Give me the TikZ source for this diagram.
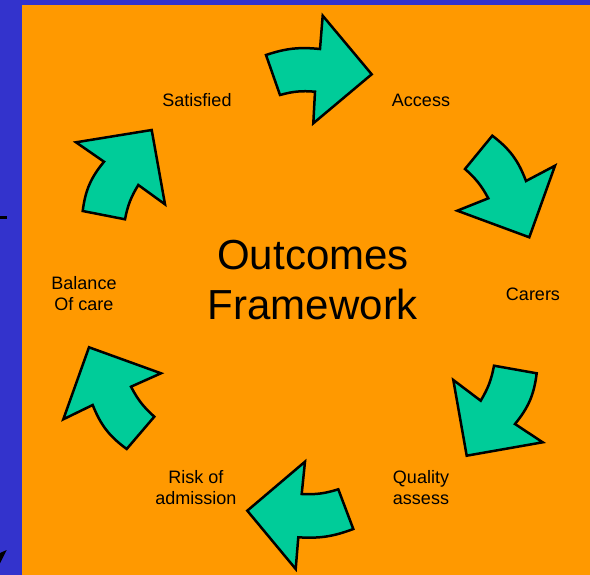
\documentclass[tikz,border=0pt]{standalone}
\usepackage{fontspec}
\setmainfont{Liberation Sans}
\usetikzlibrary{calc}
\definecolor{slideblue}{RGB}{51,51,204}
\definecolor{slideorange}{RGB}{255,153,0}
\definecolor{arrowgreen}{RGB}{0,204,153}

\begin{document}
\begin{tikzpicture}[x=1pt, y=-1pt,
    cyclearrow/.style={draw=black, line width=2.5pt, fill=arrowgreen, line join=miter},
    steplabel/.style={align=center, inner sep=0pt, font=\fontsize{18}{21}\selectfont}]

  \useasboundingbox (0,0) rectangle (590,575);
  \fill[slideblue] (0,0) rectangle (590,575);
  \fill[slideorange] (22,5) rectangle (590,575);

  % cut-off bits at the slide edge
  \draw[line width=3pt] (0,217.5) -- (7,217.5);
  \fill (0,553) -- (6.7,550) -- (0,563.3) -- cycle;

  % the six bent arrows, clockwise from the top
  \draw[cyclearrow] (266,55) to[bend left=12] (320,49) -- (322.7,15.7) -- (371.7,74.3)
    -- (313.3,123.3) -- (315,91.7) to[bend right=10] (280,95) -- cycle;
  \draw[cyclearrow] (492.3,135.7) to[bend left=16] (526,181) -- (555,165.7) -- (529.3,237.3)
    -- (457.3,210.7) -- (488.3,198.3) to[bend right=10] (465,169) -- cycle;
  \draw[cyclearrow] (536.7,373.3) to[bend left=16] (515,424) -- (542.7,442.3) -- (466.7,455.7)
    -- (453.3,380) -- (480.7,400.7) to[bend right=10] (494,365.7) -- cycle;
  \draw[cyclearrow] (353.3,529) to[bend left=12] (298.3,537.3) -- (295.7,569) -- (247.3,510.7)
    -- (305,461.7) -- (301.7,494) to[bend right=10] (338.3,489.3) -- cycle;
  \draw[cyclearrow] (126.7,449) to[bend left=16] (92.7,405) -- (63.3,419.3) -- (89,347.3)
    -- (161,373.3) -- (131,386.7) to[bend right=10] (154.3,416.7) -- cycle;
  \draw[cyclearrow] (82.7,211) to[bend left=16] (104,161.7) -- (76,142.3) -- (151.7,130)
    -- (165,204.3) -- (138.3,185) to[bend right=10] (125,219.3) -- cycle;

  \node[align=center, inner sep=0pt, font=\fontsize{42}{50}\selectfont] (framework) at (313,280)
    {Outcomes~\\Framework};

  \foreach \nm/\x/\y/\txt in {satisfied/197/100/Satisfied, access/421/100/Access,
      carers/533/294/Carers, quality/421/487.5/{Quality\\assess},
      risk/196/487.5/{Risk of\\admission}, balance/84/293.5/{Balance\\Of care}} {
    \node[steplabel] (\nm) at (\x,\y) {\txt};
  }

\end{tikzpicture}
\end{document}
